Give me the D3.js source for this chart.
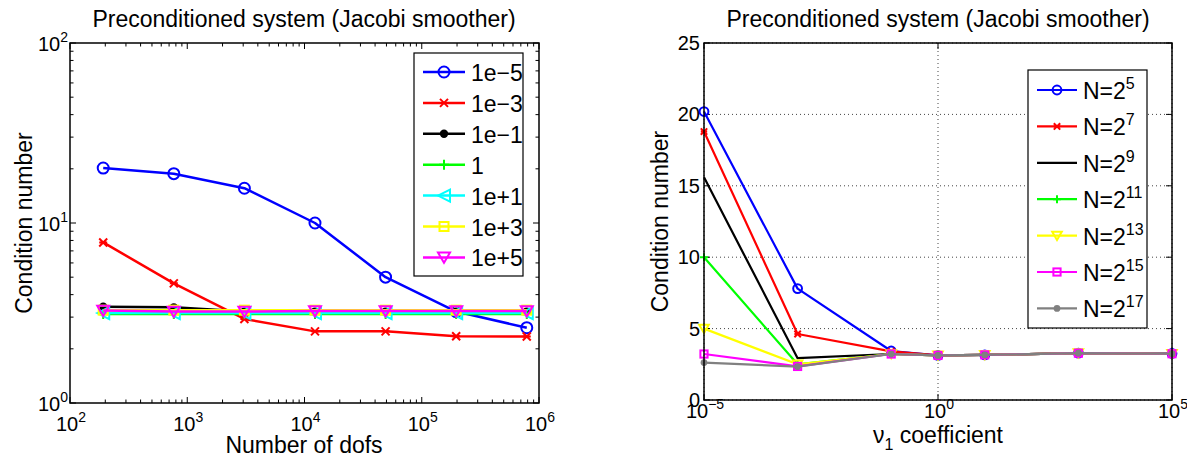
<!DOCTYPE html>
<html>
<head>
<meta charset="utf-8">
<script src="https://cdn.jsdelivr.net/npm/d3@7"></script>
<style>
  html, body { margin: 0; padding: 0; background: #fff; }
  svg { display: block; font-family: "Liberation Sans", Arial, Helvetica, sans-serif; }
</style>
</head>
<body>
<svg id="chart" width="1187" height="453"></svg>
<script>
// ---------------- DATA ----------------
const dofs = [192, 768, 3072, 12288, 49152, 196608, 786432];
const nuValues = [1e-5, 1e-3, 1e-1, 1, 1e1, 1e3, 1e5];
const nuLabels = ["1e\u22125", "1e\u22123", "1e\u22121", "1", "1e+1", "1e+3", "1e+5"];
const nExponents = [5, 7, 9, 11, 13, 15, 17];

// condition number vs dofs, one array per nu coefficient
const cond_nu_1em5 = [20.2, 18.8, 15.6, 10.0, 5.0, 3.22, 2.62];
const cond_nu_1em3 = [7.8, 4.62, 2.93, 2.5, 2.5, 2.35, 2.34];
const cond_nu_1em1 = [3.43, 3.40, 3.22, 3.22, 3.22, 3.22, 3.22];
const cond_nu_1 = [3.12, 3.12, 3.12, 3.12, 3.12, 3.12, 3.12];
const cond_nu_1e1 = [3.16, 3.16, 3.16, 3.16, 3.16, 3.16, 3.16];
const cond_nu_1e3 = [3.28, 3.28, 3.28, 3.28, 3.28, 3.28, 3.28];
const cond_nu_1e5 = [3.26, 3.22, 3.22, 3.24, 3.24, 3.24, 3.24];

const leftTicksX = [1e2, 1e3, 1e4, 1e5, 1e6];
const leftTicksY = [1, 10, 100];
const rightTicksX = [1e-5, 1e0, 1e5];
const rightTicksY = [0, 5, 10, 15, 20, 25];

const titleText = "Preconditioned system (Jacobi smoother)";

// ---------------- SETUP ----------------
const svg = d3.select("#chart");
const leftSeries = [cond_nu_1em5, cond_nu_1em3, cond_nu_1em1, cond_nu_1, cond_nu_1e1, cond_nu_1e3, cond_nu_1e5];
const leftColors = ["#0000ff", "#ff0000", "#000000", "#00ff00", "#00ffff", "#ffff00", "#ff00ff"];
const leftMarkers = ["o", "x", ".", "+", "<", "s", "v"];
const rightColors = ["#0000ff", "#ff0000", "#000000", "#00ff00", "#ffff00", "#ff00ff", "#808080"];
const rightMarkers = ["o", "x", "none", "+", "v", "s", "."];

// right plot: transpose (series per N, values over nu)
const rightSeries = nExponents.map((e, j) => leftSeries.map(s => s[j]));

const FS = 23;      // labels, titles, legends
const TFS = 20;     // tick labels
const SFS = 14;     // superscripts on ticks

function drawMarker(g, type, x, y, color, size) {
  const s = size;
  if (type === "o") {
    g.append("circle").attr("cx", x).attr("cy", y).attr("r", s * 0.55)
      .attr("fill", "none").attr("stroke", color).attr("stroke-width", 2);
  } else if (type === "x") {
    const d = s * 0.4;
    g.append("path").attr("d", `M${x-d},${y-d}L${x+d},${y+d}M${x-d},${y+d}L${x+d},${y-d}M${x-d},${y}L${x+d},${y}`)
      .attr("stroke", color).attr("stroke-width", 2).attr("fill", "none");
  } else if (type === ".") {
    g.append("circle").attr("cx", x).attr("cy", y).attr("r", s * 0.42).attr("fill", color);
  } else if (type === "+") {
    const d = s * 0.5;
    g.append("path").attr("d", `M${x-d},${y}L${x+d},${y}M${x},${y-d}L${x},${y+d}`)
      .attr("stroke", color).attr("stroke-width", 2).attr("fill", "none");
  } else if (type === "<") {
    const d = s * 0.6;
    g.append("path").attr("d", `M${x-d},${y}L${x+d},${y-d}L${x+d},${y+d}Z`)
      .attr("stroke", color).attr("stroke-width", 2).attr("fill", "none");
  } else if (type === "v") {
    const d = s * 0.6;
    g.append("path").attr("d", `M${x-d},${y-d*0.8}L${x+d},${y-d*0.8}L${x},${y+d*0.9}Z`)
      .attr("stroke", color).attr("stroke-width", 2).attr("fill", "none");
  } else if (type === "s") {
    const d = s * 0.45;
    g.append("rect").attr("x", x-d).attr("y", y-d).attr("width", 2*d).attr("height", 2*d)
      .attr("stroke", color).attr("stroke-width", 2).attr("fill", "none");
  }
}

function powLabel(g, x, y, exp, anchor) {
  const t = g.append("text").attr("x", x).attr("y", y).attr("text-anchor", anchor)
    .attr("font-size", TFS).attr("fill", "#000");
  t.append("tspan").text("10");
  t.append("tspan").attr("dy", -9).attr("font-size", SFS).text(exp);
  return t;
}

// ---------------- LEFT PLOT ----------------
const L = { x0: 70, x1: 539, y0: 43, y1: 403 };
const xL = d3.scaleLog().domain([1e2, 1e6]).range([L.x0, L.x1]);
const yL = d3.scaleLog().domain([1, 100]).range([L.y1, L.y0]);
const gL = svg.append("g");

// ticks (log, inward, all four sides)
const minorX = xL.ticks();
const minorY = yL.ticks();
const isMajor = v => Math.abs(Math.log10(v) - Math.round(Math.log10(v))) < 1e-9;
minorX.forEach(v => {
  const len = isMajor(v) ? 6 : 3.5;
  const x = xL(v);
  gL.append("line").attr("x1", x).attr("x2", x).attr("y1", L.y1).attr("y2", L.y1 - len).attr("stroke", "#000");
  gL.append("line").attr("x1", x).attr("x2", x).attr("y1", L.y0).attr("y2", L.y0 + len).attr("stroke", "#000");
});
minorY.forEach(v => {
  const len = isMajor(v) ? 6 : 3.5;
  const y = yL(v);
  gL.append("line").attr("x1", L.x0).attr("x2", L.x0 + len).attr("y1", y).attr("y2", y).attr("stroke", "#000");
  gL.append("line").attr("x1", L.x1).attr("x2", L.x1 - len).attr("y1", y).attr("y2", y).attr("stroke", "#000");
});

// data
const lineL = d3.line().x((d, i) => xL(dofs[i])).y(d => yL(d));
leftSeries.forEach((s, k) => {
  gL.append("path").datum(s).attr("d", lineL).attr("fill", "none")
    .attr("stroke", leftColors[k]).attr("stroke-width", 2.5).attr("stroke-linejoin", "round");
  const gm = gL.append("g");
  s.forEach((v, i) => drawMarker(gm, leftMarkers[k], xL(dofs[i]), yL(v), leftColors[k], 10));
});

// box
gL.append("rect").attr("x", L.x0).attr("y", L.y0).attr("width", L.x1 - L.x0).attr("height", L.y1 - L.y0)
  .attr("fill", "none").attr("stroke", "#000").attr("stroke-width", 1.5);

// tick labels
leftTicksX.forEach(v => powLabel(gL, xL(v) + 1, L.y1 + 28, String(Math.round(Math.log10(v))), "middle"));
leftTicksY.forEach(v => powLabel(gL, L.x0 - 2, yL(v) + 8, String(Math.round(Math.log10(v))), "end"));

// titles & labels
gL.append("text").attr("x", 304).attr("y", 27).attr("text-anchor", "middle").attr("font-size", FS).text(titleText);
gL.append("text").attr("x", 304).attr("y", 453).attr("text-anchor", "middle").attr("font-size", FS).text("Number of dofs");
gL.append("text").attr("transform", `translate(32,${(L.y0 + L.y1) / 2}) rotate(-90)`)
  .attr("text-anchor", "middle").attr("font-size", FS).text("Condition number");

// legend
const legL = gL.append("g");
legL.append("rect").attr("x", 414).attr("y", 53).attr("width", 109).attr("height", 223)
  .attr("fill", "#fff").attr("stroke", "#000").attr("stroke-width", 1.2);
nuLabels.forEach((lab, k) => {
  const y = 72 + k * 30.9;
  legL.append("line").attr("x1", 423).attr("x2", 465).attr("y1", y).attr("y2", y)
    .attr("stroke", leftColors[k]).attr("stroke-width", 2.5);
  drawMarker(legL, leftMarkers[k], 444, y, leftColors[k], 10);
  legL.append("text").attr("x", 471).attr("y", y + 9).attr("font-size", FS).text(lab);
});

// ---------------- RIGHT PLOT ----------------
const R = { x0: 704, x1: 1172, y0: 43, y1: 400 };
const xR = d3.scaleLog().domain([1e-5, 1e5]).range([R.x0, R.x1]);
const yR = d3.scaleLinear().domain([0, 25]).range([R.y1, R.y0]);
const gR = svg.append("g");

// grid
rightTicksY.forEach(v => {
  gR.append("line").attr("x1", R.x0).attr("x2", R.x1).attr("y1", yR(v)).attr("y2", yR(v))
    .attr("stroke", "#444").attr("stroke-width", 1).attr("stroke-dasharray", "1,3");
});
rightTicksX.forEach(v => {
  gR.append("line").attr("x1", xR(v)).attr("x2", xR(v)).attr("y1", R.y0).attr("y2", R.y1)
    .attr("stroke", "#444").attr("stroke-width", 1).attr("stroke-dasharray", "1,3");
});
// ticks
rightTicksY.forEach(v => {
  gR.append("line").attr("x1", R.x0).attr("x2", R.x0 + 6).attr("y1", yR(v)).attr("y2", yR(v)).attr("stroke", "#000");
  gR.append("line").attr("x1", R.x1).attr("x2", R.x1 - 6).attr("y1", yR(v)).attr("y2", yR(v)).attr("stroke", "#000");
});
rightTicksX.forEach(v => {
  gR.append("line").attr("x1", xR(v)).attr("x2", xR(v)).attr("y1", R.y1).attr("y2", R.y1 - 6).attr("stroke", "#000");
  gR.append("line").attr("x1", xR(v)).attr("x2", xR(v)).attr("y1", R.y0).attr("y2", R.y0 + 6).attr("stroke", "#000");
});

// data
const lineR = d3.line().x((d, i) => xR(nuValues[i])).y(d => yR(d));
rightSeries.forEach((s, k) => {
  gR.append("path").datum(s).attr("d", lineR).attr("fill", "none")
    .attr("stroke", rightColors[k]).attr("stroke-width", 2.2).attr("stroke-linejoin", "round");
  const gm = gR.append("g");
  s.forEach((v, i) => drawMarker(gm, rightMarkers[k], xR(nuValues[i]), yR(v), rightColors[k], 8));
});

// box
gR.append("rect").attr("x", R.x0).attr("y", R.y0).attr("width", R.x1 - R.x0).attr("height", R.y1 - R.y0)
  .attr("fill", "none").attr("stroke", "#000").attr("stroke-width", 1.5);

// tick labels
rightTicksX.forEach(v => {
  const e = Math.round(Math.log10(v));
  powLabel(gR, xR(v) + 1, R.y1 + 18, e < 0 ? "\u2212" + (-e) : String(e), "middle");
});
rightTicksY.forEach(v => {
  gR.append("text").attr("x", R.x0 - 4).attr("y", yR(v) + 7).attr("text-anchor", "end")
    .attr("font-size", TFS).text(v);
});

// titles & labels
gR.append("text").attr("x", 938).attr("y", 27).attr("text-anchor", "middle").attr("font-size", FS).text(titleText);
const xlab = gR.append("text").attr("x", 938).attr("y", 443).attr("text-anchor", "middle").attr("font-size", FS);
xlab.append("tspan").text("\u03bd");
xlab.append("tspan").attr("dy", 7).attr("font-size", 16).text("1");
xlab.append("tspan").attr("dy", -7).text(" coefficient");
gR.append("text").attr("transform", `translate(668,${(R.y0 + R.y1) / 2}) rotate(-90)`)
  .attr("text-anchor", "middle").attr("font-size", FS).text("Condition number");

// legend
const legR = gR.append("g");
legR.append("rect").attr("x", 1028).attr("y", 70).attr("width", 119).attr("height", 258)
  .attr("fill", "#fff").attr("stroke", "#000").attr("stroke-width", 1.2);
nExponents.forEach((e, k) => {
  const y = 90 + k * 36.4;
  legR.append("line").attr("x1", 1037).attr("x2", 1077).attr("y1", y).attr("y2", y)
    .attr("stroke", rightColors[k]).attr("stroke-width", 2.2);
  drawMarker(legR, rightMarkers[k], 1057, y, rightColors[k], 8);
  const t = legR.append("text").attr("x", 1083).attr("y", y + 9).attr("font-size", FS);
  t.append("tspan").text("N=2");
  t.append("tspan").attr("dy", -10).attr("font-size", 16).text(e);
});
</script>
</body>
</html>
